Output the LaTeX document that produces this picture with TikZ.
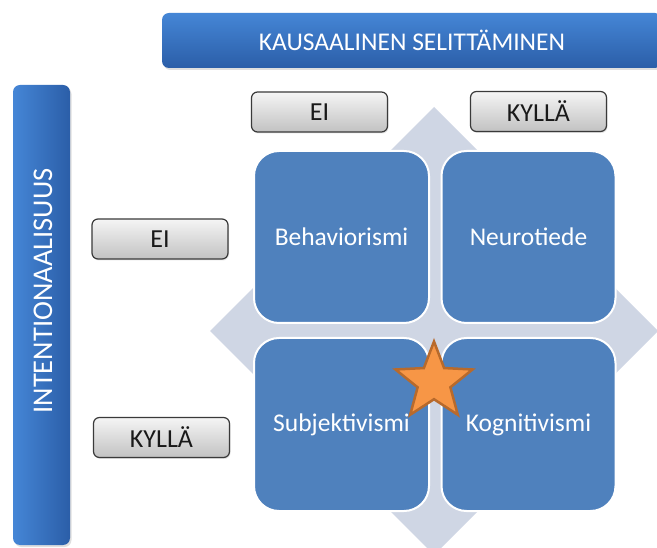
\documentclass[tikz,border=0pt]{standalone}
\usepackage{fontspec}
\setmainfont{Carlito}
\usetikzlibrary{shapes.geometric,shadows}
\definecolor{tileblue}{HTML}{4F81BD}
\definecolor{diamondgray}{HTML}{CFD6E4}
\definecolor{bantop}{HTML}{4586D6}
\definecolor{banbot}{HTML}{2B5EA8}
\definecolor{starfill}{HTML}{F79646}
\definecolor{stardraw}{HTML}{B86A2C}
\definecolor{boxline}{HTML}{3A3A3A}
\tikzset{
  banner/.style={rectangle, rounded corners=7pt, inner sep=0pt, draw=none,
    drop shadow={opacity=0.25, shadow xshift=1.5pt, shadow yshift=-2pt},
    text=white, font=\fontsize{25.5}{30}\selectfont},
  greybox/.style={rectangle, rounded corners=6pt, inner sep=0pt,
    minimum width=136pt, minimum height=40pt, draw=boxline, line width=1.2pt,
    top color=white!96!black, bottom color=black!24,
    drop shadow={opacity=0.2, shadow xshift=1pt, shadow yshift=-1.5pt},
    text=black!90, font=\fontsize{26}{30}\selectfont},
  tile/.style={rectangle, rounded corners=25pt, inner sep=0pt, fill=tileblue,
    draw=white, line width=2pt, text=white, font=\fontsize{25.5}{30}\selectfont},
}
\begin{document}
\begin{tikzpicture}[x=1pt,y=-1pt]
\useasboundingbox[fill=white] (0,0) rectangle (657,548);
% background diamond
\fill[diamondgray] (434,107) -- (658,331) -- (434,555) -- (210,331) -- cycle;
% banners
\node[banner, minimum width=500pt, minimum height=55pt,
  top color=bantop, bottom color=banbot] (kaus) at (412,40.5) {KAUSAALINEN SELITTÄMINEN};
\node[banner, minimum width=57pt, minimum height=460pt,
  left color=bantop, right color=banbot] (intb) at (41.5,315) {};
\node[text=white, rotate=90, font=\fontsize{28.5}{32}\selectfont, inner sep=0pt] (intt) at (43,291) {INTENTIONAALISUUS};
% grey boxes
\node[greybox] (ei1) at (319.5,112) {EI};
\node[greybox] (kylla1) at (538.5,111.5) {KYLLÄ};
\node[greybox] (ei2) at (160,239) {EI};
\node[greybox] (kylla2) at (161.5,437.5) {KYLLÄ};
% tiles
\node[tile, minimum width=175pt, minimum height=172pt] (beh) at (341.5,237) {Behaviorismi};
\node[tile, minimum width=174pt, minimum height=172pt] (neu) at (528.5,237) {Neurotiede};
\node[tile, minimum width=175pt, minimum height=173pt] (sub) at (341.5,424.5) {Subjektivismi};
\node[tile, minimum width=174pt, minimum height=173pt] (kog) at (528.5,424.5) {Kognitivismi};
% star
\node[star, star points=5, star point ratio=2.35, minimum size=81pt, inner sep=0pt,
  fill=starfill, draw=stardraw, line width=2.5pt] (star) at (434,382) {};
\end{tikzpicture}
\end{document}
